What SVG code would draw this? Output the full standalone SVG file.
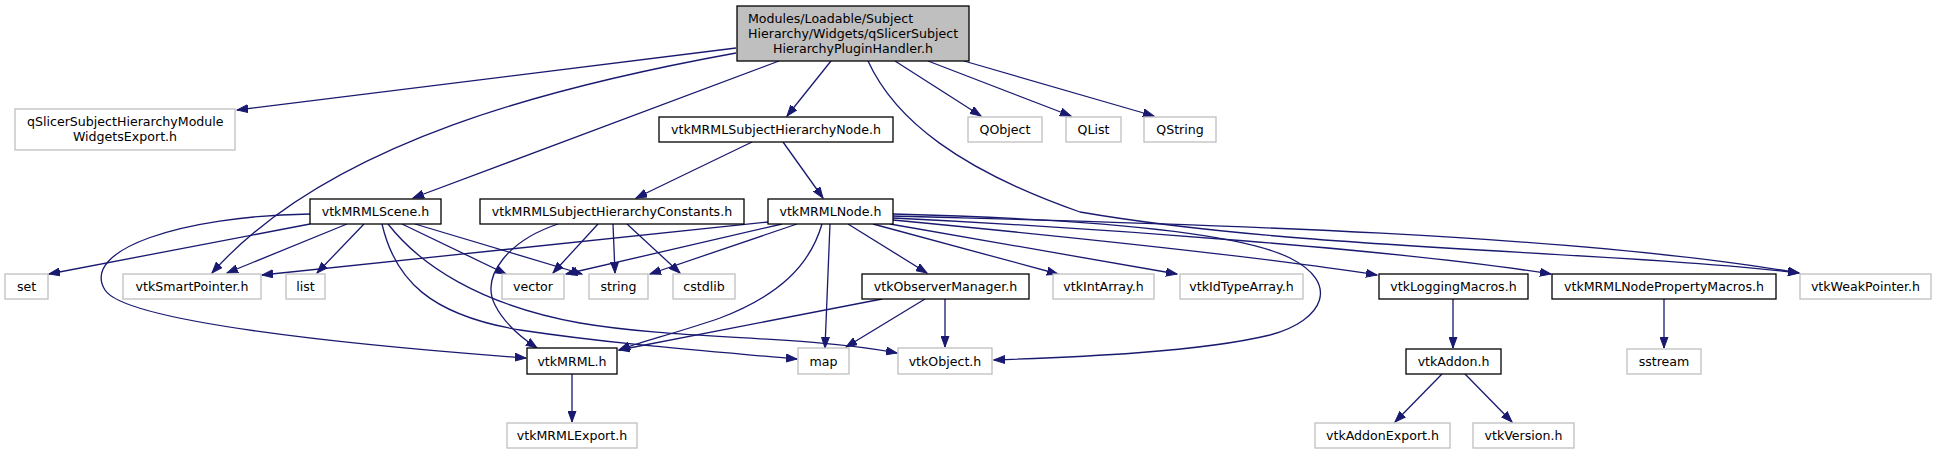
<svg xmlns="http://www.w3.org/2000/svg" width="1936" height="455" viewBox="0 0 1936 455">
<style>
text{font-family:"DejaVu Sans","Liberation Sans",sans-serif;font-size:12.6px;fill:#000}
.c{text-anchor:middle}
.s{text-anchor:start}
.n rect{fill:#fff;stroke:#000;stroke-width:1.3}
.x rect{fill:#fff;stroke:#bfbfbf;stroke-width:1.3}
.m rect{fill:#bfbfbf;stroke:#000;stroke-width:1.3}
#edges path{fill:none;stroke:#191970;stroke-width:1.3;marker-end:url(#ah)}
</style>
<defs>
<marker id="ah" markerUnits="userSpaceOnUse" markerWidth="12" markerHeight="9" refX="11" refY="4.5" viewBox="0 0 12 9" orient="auto">
<path d="M0,0.5 L11,4.5 L0,8.5 z" fill="#191970" stroke="#191970" stroke-width="1"/>
</marker>
</defs>
<rect width="1936" height="455" fill="#fff"/>
<g id="edges">
<path d="M736,48 L237,110"/>
<path d="M736,53 C560,85 330,140 212,273"/>
<path d="M779,61 L413,198"/>
<path d="M831,61 L787,116"/>
<path d="M868,61 C895,120 960,170 1080,212 C1300,250 1600,250 1799,273"/>
<path d="M895,61 L981,116"/>
<path d="M928,61 L1071,116"/>
<path d="M964,61 L1154,116"/>
<path d="M752,142 L636,198"/>
<path d="M783,142 L823,198"/>
<path d="M310,224 L49,274"/>
<path d="M310,214 C180,216 80,250 105,290 C125,322 350,345 526,358"/>
<path d="M347,224 L227,273"/>
<path d="M364,224 L317,273"/>
<path d="M402,224 L506,274"/>
<path d="M415,224 L582,274"/>
<path d="M382,224 C395,280 430,315 520,330 C620,345 720,352 797,359"/>
<path d="M388,224 C420,265 480,305 580,323 C680,340 800,335 897,353"/>
<path d="M558,224 C510,240 480,275 495,305 C505,325 522,338 537,348"/>
<path d="M598,224 L553,273"/>
<path d="M613,224 L615,273"/>
<path d="M627,224 L680,273"/>
<path d="M768,222 L262,275"/>
<path d="M782,224 L566,274"/>
<path d="M797,224 L650,274"/>
<path d="M822,224 C810,265 780,295 720,318 C680,332 640,342 619,350"/>
<path d="M830,224 L825,348"/>
<path d="M848,224 L927,273"/>
<path d="M873,224 L1058,274"/>
<path d="M890,224 L1177,274"/>
<path d="M893,220 C1050,235 1250,255 1377,275"/>
<path d="M893,218 C1100,228 1400,250 1551,274"/>
<path d="M893,216 C1100,222 1550,230 1799,273"/>
<path d="M893,214 C1050,218 1230,228 1290,258 C1340,283 1325,320 1270,335 C1200,352 1080,357 994,360"/>
<path d="M882,299 L619,350"/>
<path d="M925,299 L846,347"/>
<path d="M945,299 L945,347"/>
<path d="M572,374 L572,422"/>
<path d="M1453,299 L1453,348"/>
<path d="M1664,299 L1664,348"/>
<path d="M1442,374 L1395,422"/>
<path d="M1465,374 L1512,422"/>
</g>
<g id="main" class="m"><rect x="737" y="6" width="232" height="55"/><text class="s" x="748" y="22.5">Modules/Loadable/Subject</text><text class="s" x="748" y="37.5">Hierarchy/Widgets/qSlicerSubject</text><text class="c" x="853" y="52.5">HierarchyPluginHandler.h</text></g>
<g id="qSlicerExport" class="x"><rect x="15" y="109" width="220" height="41"/><text class="s" x="27" y="126">qSlicerSubjectHierarchyModule</text><text class="c" x="125" y="141">WidgetsExport.h</text></g>
<g id="shnode" class="n"><rect x="659" y="117" width="234" height="25"/><text class="c" x="776" y="134">vtkMRMLSubjectHierarchyNode.h</text></g>
<g id="qobject" class="x"><rect x="968" y="117" width="74" height="25"/><text class="c" x="1005" y="134">QObject</text></g>
<g id="qlist" class="x"><rect x="1066" y="117" width="55" height="25"/><text class="c" x="1093.5" y="134">QList</text></g>
<g id="qstring" class="x"><rect x="1144" y="117" width="72" height="25"/><text class="c" x="1180" y="134">QString</text></g>
<g id="scene" class="n"><rect x="310" y="199" width="131" height="25"/><text class="c" x="375.5" y="216">vtkMRMLScene.h</text></g>
<g id="constants" class="n"><rect x="480" y="199" width="264" height="25"/><text class="c" x="612" y="216">vtkMRMLSubjectHierarchyConstants.h</text></g>
<g id="mrmlnode" class="n"><rect x="768" y="199" width="125" height="25"/><text class="c" x="830.5" y="216">vtkMRMLNode.h</text></g>
<g id="set" class="x"><rect x="5" y="274" width="43" height="25"/><text class="c" x="26.5" y="291">set</text></g>
<g id="smartptr" class="x"><rect x="123" y="274" width="138" height="25"/><text class="c" x="192" y="291">vtkSmartPointer.h</text></g>
<g id="list" class="x"><rect x="286" y="274" width="39" height="25"/><text class="c" x="305.5" y="291">list</text></g>
<g id="vector" class="x"><rect x="502" y="274" width="62" height="25"/><text class="c" x="533" y="291">vector</text></g>
<g id="string" class="x"><rect x="589" y="274" width="59" height="25"/><text class="c" x="618.5" y="291">string</text></g>
<g id="cstdlib" class="x"><rect x="673" y="274" width="62" height="25"/><text class="c" x="704" y="291">cstdlib</text></g>
<g id="observer" class="n"><rect x="862" y="274" width="167" height="25"/><text class="c" x="945.5" y="291">vtkObserverManager.h</text></g>
<g id="intarray" class="x"><rect x="1053" y="274" width="101" height="25"/><text class="c" x="1103.5" y="291">vtkIntArray.h</text></g>
<g id="idtypearray" class="x"><rect x="1180" y="274" width="123" height="25"/><text class="c" x="1241.5" y="291">vtkIdTypeArray.h</text></g>
<g id="logging" class="n"><rect x="1379" y="274" width="149" height="25"/><text class="c" x="1453.5" y="291">vtkLoggingMacros.h</text></g>
<g id="propmacros" class="n"><rect x="1552" y="274" width="224" height="25"/><text class="c" x="1664" y="291">vtkMRMLNodePropertyMacros.h</text></g>
<g id="weakptr" class="x"><rect x="1800" y="274" width="131" height="25"/><text class="c" x="1865.5" y="291">vtkWeakPointer.h</text></g>
<g id="mrml" class="n"><rect x="527" y="348" width="90" height="26"/><text class="c" x="572" y="366">vtkMRML.h</text></g>
<g id="map" class="x"><rect x="798" y="348" width="51" height="26"/><text class="c" x="823.5" y="366">map</text></g>
<g id="object" class="x"><rect x="898" y="348" width="94" height="26"/><text class="c" x="945" y="366">vtkObject.h</text></g>
<g id="addon" class="n"><rect x="1406" y="349" width="95" height="25"/><text class="c" x="1453.5" y="366">vtkAddon.h</text></g>
<g id="sstream" class="x"><rect x="1627" y="349" width="74" height="25"/><text class="c" x="1664" y="366">sstream</text></g>
<g id="mrmlexport" class="x"><rect x="507" y="423" width="130" height="25"/><text class="c" x="572" y="440">vtkMRMLExport.h</text></g>
<g id="addonexport" class="x"><rect x="1315" y="423" width="135" height="25"/><text class="c" x="1382.5" y="440">vtkAddonExport.h</text></g>
<g id="version" class="x"><rect x="1473" y="423" width="101" height="25"/><text class="c" x="1523.5" y="440">vtkVersion.h</text></g>
</svg>
